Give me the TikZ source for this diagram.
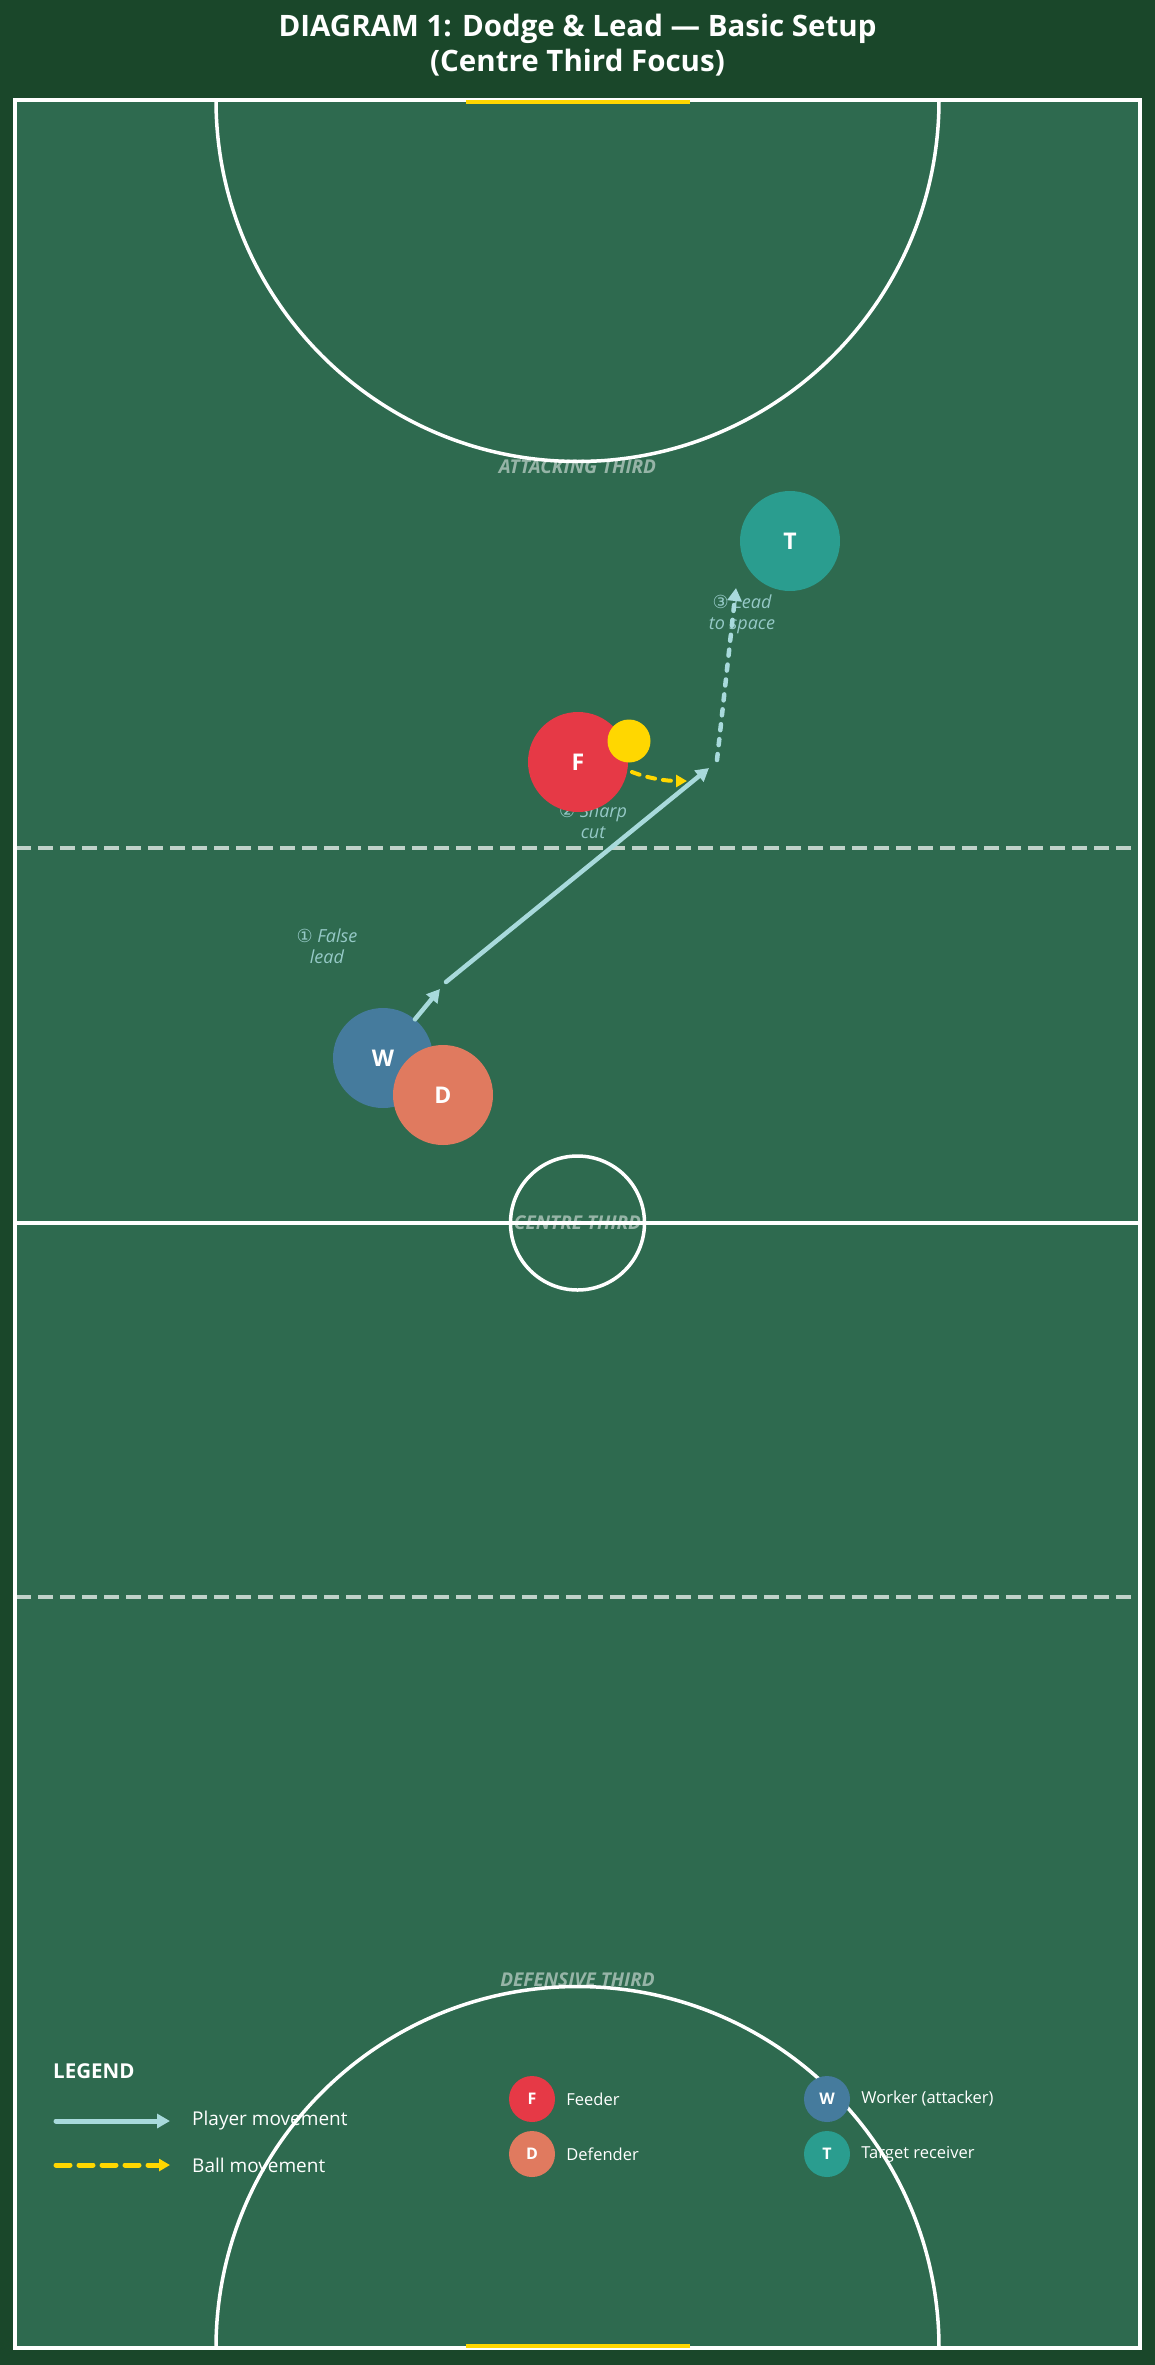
\documentclass[tikz,border=0pt]{standalone}
\usepackage{fontspec}
\setmainfont{Open Sans}
\newfontfamily\digitfont{DejaVu Sans}
\usepackage{xcolor}
\usetikzlibrary{arrows.meta, positioning}
\definecolor{pitchdark}{HTML}{1A472A}
\definecolor{pitch}{HTML}{2E6A4F}
\definecolor{runline}{HTML}{A8DADC}
\definecolor{ballyellow}{HTML}{FFD700}
\definecolor{feedred}{HTML}{E63946}
\definecolor{workblue}{HTML}{457B9D}
\definecolor{defcoral}{HTML}{E07A5F}
\definecolor{targetteal}{HTML}{2A9D8F}
\tikzstyle{player} = [circle, minimum size=100pt, inner sep=0pt, text=white, font=\bfseries\fontsize{23}{27}\selectfont]
\tikzstyle{keydot} = [circle, minimum size=46pt, inner sep=0pt, text=white, font=\bfseries\fontsize{16}{19}\selectfont]
\tikzstyle{keytext} = [anchor=west, inner sep=0pt, text=white, font=\fontsize{16.5}{19}\selectfont]
\tikzstyle{zone} = [text=white, text opacity=0.5, font=\bfseries\itshape\fontsize{19}{22}\selectfont]
\tikzstyle{note} = [text=runline, text opacity=0.85, align=center, font=\itshape\fontsize{18}{21}\selectfont]
\tikzstyle{courtline} = [white, line width=3.5pt]
\tikzstyle{thirdline} = [white, opacity=0.7, line width=4pt, dash pattern=on 15pt off 7pt]
\tikzstyle{arrow} = [runline, line width=4.5pt, line cap=round, -{Triangle[length=13pt, width=14pt]}]
\tikzstyle{dotarrow} = [arrow, dash pattern=on 6pt off 9pt]
\tikzstyle{pass} = [ballyellow, line width=4pt, line cap=round, dash pattern=on 8pt off 8pt, -{Triangle[length=11pt, width=12pt]}]

\begin{document}
\begin{tikzpicture}[x=1pt, y=-1pt]

% Court
\fill[pitchdark] (0,0) rectangle (1155,2365);
\useasboundingbox (0,0) rectangle (1155,2365);
\draw[courtline, fill=pitch] (15,100) rectangle (1140,2348);
\draw[thirdline] (16,848) -- (1139,848);
\draw[thirdline] (16,1597) -- (1139,1597);
\draw[courtline] (15,1223) -- (1140,1223);
\draw[courtline] (577.5,1223) circle[radius=67];
\draw[courtline] (216,100) arc[start angle=180, end angle=0, radius=361.5];
\draw[courtline] (216,2348) arc[start angle=180, end angle=360, radius=361.5];
\draw[ballyellow, line width=4pt] (466,102) -- (690,102);
\draw[ballyellow, line width=4pt] (466,2346) -- (690,2346);

% Title
\node (title) [text=white, align=center, font=\bfseries\fontsize{29.5}{35}\selectfont] at (577.5,45) {DIAGRAM 1: Dodge \& Lead — Basic Setup\\(Centre Third Focus)};

% Zones
\node (attack) [zone] at (577.5,467) {ATTACKING THIRD};
\node (centre) [zone] at (577.5,1223) {CENTRE THIRD};
\node (defence) [zone] at (577.5,1980) {DEFENSIVE THIRD};

% Notes
\node (falselead) [note] at (327,946) {{\digitfont ①} False\\lead};
\node (sharpcut) [note] at (593,821) {{\digitfont ②} Sharp\\cut};
\node (leadspace) [note] at (742,614) {{\digitfont ③} Lead\\to space};

% Nodes
\node (W) [player, fill=workblue] at (383,1058) {W};
\node (D) [player, fill=defcoral] at (443,1095) {D};
\coordinate (fakeend) at (440,989);
\coordinate (cutstart) at (446,982);
\coordinate (cutend) at (709,768);
\coordinate (spacestart) at (717,760);
\coordinate (spaceend) at (736,588);
\coordinate (passstart) at (632,772);
\coordinate (passend) at (687,781);

% Arrows
\draw [arrow] (W) -- (fakeend);
\draw [arrow] (cutstart) -- (cutend);
\draw [dotarrow] (spacestart) -- (spaceend);
\draw [pass] (passstart) .. controls (650,779) and (668,781) .. (passend);

\node (F) [player, fill=feedred] at (578,762) {F};
\node (ball) [circle, minimum size=43pt, inner sep=0pt, fill=ballyellow] at (629,741) {};
\node (T) [player, fill=targetteal] at (790,541) {T};

% Legend
\node (legend) [anchor=west, inner sep=0pt, text=white, font=\bfseries\fontsize{20.5}{24}\selectfont] at (53,2071) {LEGEND};
\coordinate (runa) at (56,2121);
\coordinate (runb) at (170,2121);
\coordinate (balla) at (56,2165);
\coordinate (ballb) at (170,2165);
\draw [arrow, line width=5pt] (runa) -- (runb);
\draw [pass, line width=5pt, dash pattern=on 14pt off 9pt] (balla) -- (ballb);
\node (runkey) [keytext, font=\fontsize{19}{22}\selectfont] at (192,2121) {Player movement};
\node (ballkey) [keytext, font=\fontsize{19}{22}\selectfont] at (192,2165) {Ball movement};
\node (kF) [keydot, fill=feedred] at (532,2099) {F};
\node (kD) [keydot, fill=defcoral] at (532,2154) {D};
\node (kW) [keydot, fill=workblue] at (827,2099) {W};
\node (kT) [keydot, fill=targetteal] at (827,2154) {T};
\node [keytext, right=11pt of kF] {Feeder};
\node [keytext, right=11pt of kD] {Defender};
\node [keytext, right=11pt of kW] {Worker (attacker)};
\node [keytext, right=11pt of kT] {Target receiver};

\end{tikzpicture}
\end{document}
